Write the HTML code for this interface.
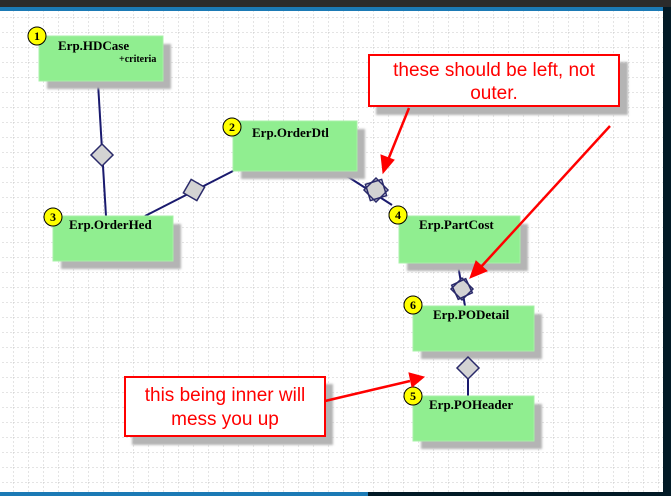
<!DOCTYPE html>
<html><head><style>
html,body{margin:0;padding:0;width:671px;height:496px;overflow:hidden;background:#fff}
svg{display:block}
.t{font-family:"Liberation Serif",serif;font-weight:bold;font-size:13px;fill:#000}
.c{font-family:"Liberation Sans",sans-serif;font-size:19px;fill:#f00;text-anchor:middle}
.n{font-family:"Liberation Serif",serif;font-weight:bold;font-size:12px;text-anchor:middle}
</style></head><body>
<svg width="671" height="496" xmlns="http://www.w3.org/2000/svg">
<defs>
<pattern id="g" x="13" y="2" width="15" height="15" patternUnits="userSpaceOnUse">
<path d="M0 0V15M0 0H15" stroke="#c8c8c8" stroke-width="1" stroke-dasharray="2,2" fill="none"/>
</pattern>
<filter id="b"><feGaussianBlur stdDeviation="1"/></filter>
</defs>
<rect x="0" y="0" width="671" height="496" fill="#fff"/>
<rect x="0" y="10" width="663" height="482" fill="url(#g)"/>
<rect x="0" y="0" width="671" height="7" fill="#2b2b2b"/>
<rect x="0" y="7" width="671" height="4" fill="#1b7ab5"/>
<rect x="663" y="7" width="8" height="489" fill="#021a26"/>
<rect x="0" y="492" width="368" height="4" fill="#1b7ab5"/>
<rect x="368" y="492" width="303" height="4" fill="#021a26"/>

<g stroke="#1a1a6e" stroke-width="2" fill="none">
<line x1="98" y1="83" x2="106" y2="216"/>
<line x1="145" y1="216" x2="233" y2="171"/>
<line x1="342" y1="173" x2="392" y2="205"/>
<line x1="458" y1="265" x2="465" y2="306"/>
<line x1="468" y1="352" x2="468" y2="396"/>
</g>

<!-- shadows -->
<g fill="#b4b4b4" filter="url(#b)">
<rect x="47" y="44" width="124" height="45"/>
<rect x="241" y="129" width="124" height="50"/>
<rect x="61" y="224" width="120" height="45"/>
<rect x="407" y="224" width="121" height="47"/>
<rect x="421" y="314" width="121" height="45"/>
<rect x="421" y="404" width="121" height="45"/>
<rect x="376" y="62" width="252" height="53"/>
<rect x="132" y="384" width="201" height="61"/>
</g>
<g fill="#90ee90" stroke="#a8f0a8">
<rect x="39" y="36" width="124" height="45"/>
<rect x="233" y="121" width="124" height="50"/>
<rect x="53" y="216" width="120" height="45"/>
<rect x="399" y="216" width="121" height="47"/>
<rect x="413" y="306" width="121" height="45"/>
<rect x="413" y="396" width="121" height="45"/>
</g>

<!-- diamonds -->
<g fill="#d3d3d3" stroke="#2a2a6a" stroke-width="1.5">
<polygon points="102,144 113,155 102,166 91,155"/>
<polygon points="194,179 205,190 194,201 183,190" transform="rotate(-15 194 190)"/>
<polygon points="376,178 388,190 376,202 364,190"/>
<polygon points="376,178 388,190 376,202 364,190" fill="none" transform="rotate(28 376 190)"/>
<polygon points="462,278 473,289 462,300 451,289"/>
<polygon points="462,278 473,289 462,300 451,289" fill="none" transform="rotate(20 462 289)"/>
<polygon points="468,357 479,368 468,379 457,368"/>
</g>

<text class="t" x="58" y="50">Erp.HDCase</text>
<text class="t" x="119" y="62" style="font-size:10px">+criteria</text>
<text class="t" x="252" y="137">Erp.OrderDtl</text>
<text class="t" x="69" y="229">Erp.OrderHed</text>
<text class="t" x="419" y="229">Erp.PartCost</text>
<text class="t" x="433" y="319">Erp.PODetail</text>
<text class="t" x="429" y="409">Erp.POHeader</text>

<g fill="#ffff00" stroke="#000" stroke-width="1">
<circle cx="37" cy="36" r="9"/><circle cx="232" cy="127" r="9"/>
<circle cx="53" cy="217" r="9"/><circle cx="398" cy="215" r="9"/>
<circle cx="413" cy="305" r="9"/><circle cx="413" cy="396" r="9"/>
</g>
<text class="n" x="37" y="40">1</text><text class="n" x="232" y="131">2</text>
<text class="n" x="53" y="221">3</text><text class="n" x="398" y="219">4</text>
<text class="n" x="413" y="309">6</text><text class="n" x="413" y="400">5</text>

<!-- callouts -->
<rect x="369" y="55" width="250" height="51" fill="#fff" stroke="#f00" stroke-width="2"/>
<text class="c" x="494" y="76">these should be left, not</text>
<text class="c" x="494" y="99">outer.</text>
<rect x="125" y="377" width="200" height="59" fill="#fff" stroke="#f00" stroke-width="2"/>
<text class="c" x="225" y="401">this being inner will</text>
<text class="c" x="225" y="425">mess you up</text>

<g stroke="#f00" stroke-width="2.5" fill="#f00">
<line x1="409" y1="108" x2="388" y2="160"/>
<polygon points="383,173 381,155 394,160" stroke-width="1"/>
<line x1="610" y1="126" x2="480" y2="268"/>
<polygon points="470,278 476,261 487,271" stroke-width="1"/>
<line x1="325" y1="401" x2="410" y2="381"/>
<polygon points="424,377 409,373 412,387" stroke-width="1"/>
</g>
</svg>
</body></html>
